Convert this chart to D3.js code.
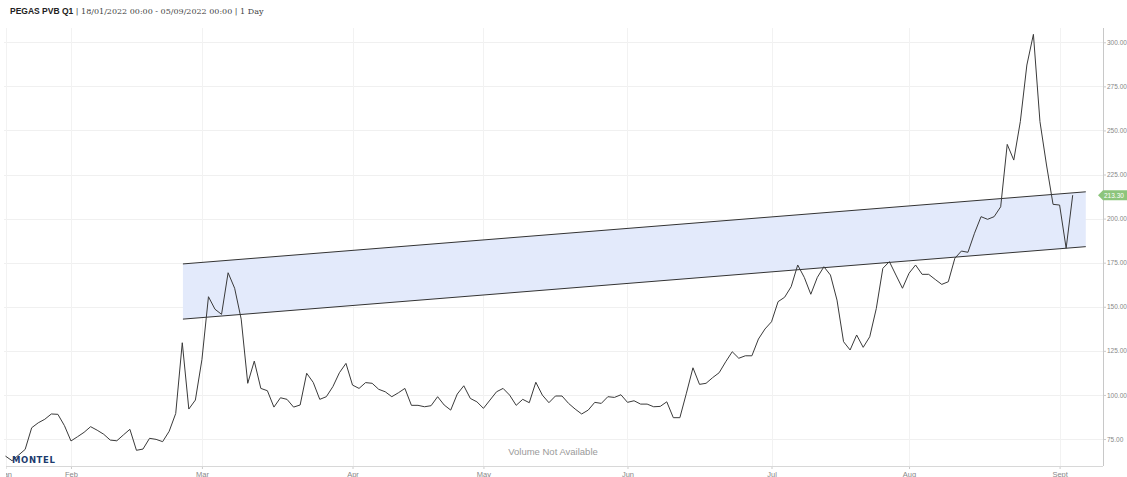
<!DOCTYPE html>
<html>
<head>
<meta charset="utf-8">
<script src="https://cdn.jsdelivr.net/npm/d3@7"></script>
<style>
  html, body { margin: 0; padding: 0; background: #fff; }
  .chart-bd { width: 1127px; height: 477px; overflow: hidden; }
</style>
</head>
<body>
<div class="chart-bd"></div>
<script>
// daily settlement prices, one per trading day 18/01 - 05/09
var prices = [
    65.3, 62.7, 65.9, 69.1, 81.4, 84.2, 86.2, 89.2, 89.0, 82.6,
    73.9, 76.3, 78.8, 82.0, 80.0, 77.7, 74.4, 74.0, 77.3, 80.5,
    68.6, 69.3, 75.4, 74.8, 73.5, 79.4, 89.5, 129.6, 92.0, 97.1,
    120.0, 155.7, 148.6, 145.7, 169.3, 160.5, 143.0, 106.6, 119.2, 103.7,
    102.4, 93.1, 98.4, 97.5, 93.1, 94.3, 112.3, 107.1, 97.5, 99.0,
    104.7, 112.6, 117.9, 105.6, 103.7, 107.0, 106.6, 103.2, 101.8, 99.0,
    101.2, 103.7, 94.1, 94.1, 93.3, 93.9, 99.0, 94.3, 91.4, 100.5,
    105.2, 98.0, 96.1, 92.4, 97.1, 101.8, 103.7, 99.9, 94.1, 97.5,
    95.6, 107.2, 99.9, 95.6, 99.4, 99.4, 95.2, 92.0, 89.2, 91.4,
    95.8, 95.2, 99.0, 98.6, 100.1, 95.8, 96.7, 94.8, 94.8, 93.3,
    93.5, 96.1, 87.1, 87.1, 101.0, 115.4, 106.0, 106.6, 109.8, 112.6,
    118.8, 124.5, 120.8, 122.2, 122.2, 131.7, 137.4, 141.5, 152.9, 155.4,
    161.4, 173.7, 166.7, 157.1, 166.7, 172.7, 168.0, 153.8, 130.2, 125.5,
    134.0, 127.0, 133.0, 149.0, 171.8, 175.6, 168.0, 160.5, 169.0, 173.7,
    168.4, 168.4, 165.5, 162.7, 164.2, 177.5, 181.6, 180.9, 191.7, 201.1,
    199.6, 201.1, 206.7, 242.1, 233.2, 255.0, 287.1, 304.5, 255.0, 230.4,
    208.1, 207.7, 183.2, 213.3
];
// month ticks (index of first trading day of the month)
var monthIdx = [0, 10, 30, 53, 73, 95, 117, 138, 161];
var monthLabels = ["Jan", "Feb", "Mar", "Apr", "May", "Jun", "Jul", "Aug", "Sept"];
var yTicks = [75, 100, 125, 150, 175, 200, 225, 250, 275, 300];
// trend channel: [index, upper, lower]
var channelStart = [27.1, 174.3, 143.0];
var channelEnd = [165.0, 215.2, 184.1];
var lastPrice = "213.30";

function run() {
    var root = document.querySelector('.chart-bd');
    var w = 1127, h = 477;
    var svg = d3.select(root).append("svg")
        .attr("width", w)
        .attr("height", h)
        .style("font-family", "'Liberation Sans', Arial, sans-serif");

    var left = 4, right = 1103, top = 28, bottom = 466;

    // the axis labels get cut at the left edge of the plot
    svg.append("clipPath").attr("id", "xclip")
        .append("rect").attr("x", left + 2).attr("y", -5).attr("width", w).attr("height", 20);

    var xScale = d3.scaleLinear()
        .domain([0, prices.length - 1])
        .range([5.5, 1072.7]);
    var yScale = d3.scaleLinear()
        .domain([59.7, 308.1])
        .range([bottom, top]);

    // title
    var title = svg.append("text").attr("x", 10).attr("y", 14).attr("font-size", "8.5px");
    title.append("tspan").text("PEGAS PVB Q1").attr("font-weight", "bold").attr("fill", "#222");
    title.append("tspan").text(" | 18/01/2022 00:00 - 05/09/2022 00:00 | 1 Day")
        .attr("font-family", "'DejaVu Serif', 'Liberation Serif', serif")
        .attr("font-size", "8px")
        .attr("fill", "#444");

    // horizontal grid
    svg.selectAll("line.hgrid")
        .data(yTicks)
        .enter()
        .append("line")
        .attr("class", "hgrid")
        .attr("x1", left).attr("x2", right)
        .attr("y1", function(d) { return Math.round(yScale(d)) + 0.5; })
        .attr("y2", function(d) { return Math.round(yScale(d)) + 0.5; })
        .attr("stroke", "#f0f0f0");

    // vertical grid
    svg.selectAll("line.vgrid")
        .data(monthIdx)
        .enter()
        .append("line")
        .attr("class", "vgrid")
        .attr("x1", function(d) { return Math.round(xScale(d)) + 0.5; })
        .attr("x2", function(d) { return Math.round(xScale(d)) + 0.5; })
        .attr("y1", top).attr("y2", bottom)
        .attr("stroke", "#f2f2f2");

    // trend channel
    var chan = [channelStart, channelEnd];
    var area = d3.area()
        .x(function(d) { return xScale(d[0]); })
        .y0(function(d) { return yScale(d[2]); })
        .y1(function(d) { return yScale(d[1]); });
    svg.append("path")
        .datum(chan)
        .attr("d", area)
        .attr("fill", "#e3eafb");
    var upper = d3.line()
        .x(function(d) { return xScale(d[0]); })
        .y(function(d) { return yScale(d[1]); });
    var lower = d3.line()
        .x(function(d) { return xScale(d[0]); })
        .y(function(d) { return yScale(d[2]); });
    svg.append("path").datum(chan).attr("d", upper).attr("stroke", "#333").attr("stroke-width", 1).attr("fill", "none");
    svg.append("path").datum(chan).attr("d", lower).attr("stroke", "#333").attr("stroke-width", 1).attr("fill", "none");

    // volume note
    svg.append("text")
        .attr("x", 553).attr("y", 455)
        .attr("text-anchor", "middle")
        .attr("font-size", "9.5px")
        .attr("fill", "#9a9a9a")
        .text("Volume Not Available");

    // price line
    var line = d3.line()
        .x(function(d, i) { return xScale(i); })
        .y(function(d) { return yScale(d); });
    svg.append("path")
        .datum(prices)
        .attr("d", line)
        .attr("fill", "none")
        .attr("stroke", "#3a3a3a")
        .attr("stroke-width", 1);

    // bottom axis
    var xAxis = d3.axisBottom(xScale)
        .tickValues(monthIdx)
        .tickSize(3)
        .tickFormat(function(d, i) { return monthLabels[i]; });
    var gx = svg.append("g")
        .attr("transform", "translate(0," + bottom + ")")
        .attr("clip-path", "url(#xclip)")
        .call(xAxis);
    gx.select(".domain").remove();
    gx.append("line").attr("x1", left).attr("x2", right).attr("y1", 0.5).attr("y2", 0.5).attr("stroke", "#d8d8d8");
    gx.selectAll(".tick line").attr("stroke", "#ccc");
    gx.selectAll(".tick text")
        .attr("font-family", "'Liberation Sans', Arial, sans-serif")
        .attr("font-size", "7.5px")
        .attr("fill", "#888")
        .attr("dy", "0.6em");

    // right axis
    var yAxis = d3.axisRight(yScale)
        .tickValues(yTicks)
        .tickSize(3)
        .tickFormat(d3.format(".2f"));
    var gy = svg.append("g")
        .attr("transform", "translate(" + right + ",0)")
        .call(yAxis);
    gy.select(".domain").remove();
    gy.append("line").attr("x1", 0.5).attr("x2", 0.5).attr("y1", top).attr("y2", bottom).attr("stroke", "#c8c8c8");
    gy.selectAll(".tick line").attr("stroke", "#ccc");
    gy.selectAll(".tick text")
        .attr("font-family", "'Liberation Sans', Arial, sans-serif")
        .attr("font-size", "6.5px")
        .attr("fill", "#888")
        .attr("x", 4);

    // last price tag
    var ty = yScale(prices[prices.length - 1]);
    svg.append("path")
        .attr("d", "M" + 1098 + "," + ty + " L1103," + (ty - 5) + " L1127," + (ty - 5) + " L1127," + (ty + 5) + " L1103," + (ty + 5) + " Z")
        .attr("fill", "#8cc57c");
    svg.append("text")
        .attr("x", 1104).attr("y", ty + 2.5)
        .attr("font-size", "6.5px")
        .attr("fill", "#fff")
        .text(lastPrice);

    // logo
    svg.append("text")
        .attr("x", 12).attr("y", 463)
        .attr("font-family", "'DejaVu Sans', sans-serif")
        .attr("font-weight", "bold")
        .attr("font-size", "8.5px")
        .attr("letter-spacing", "0.6px")
        .attr("fill", "#1d3b6e")
        .text("MONTEL");
}
window.addEventListener('load', run);
</script>
</body>
</html>
